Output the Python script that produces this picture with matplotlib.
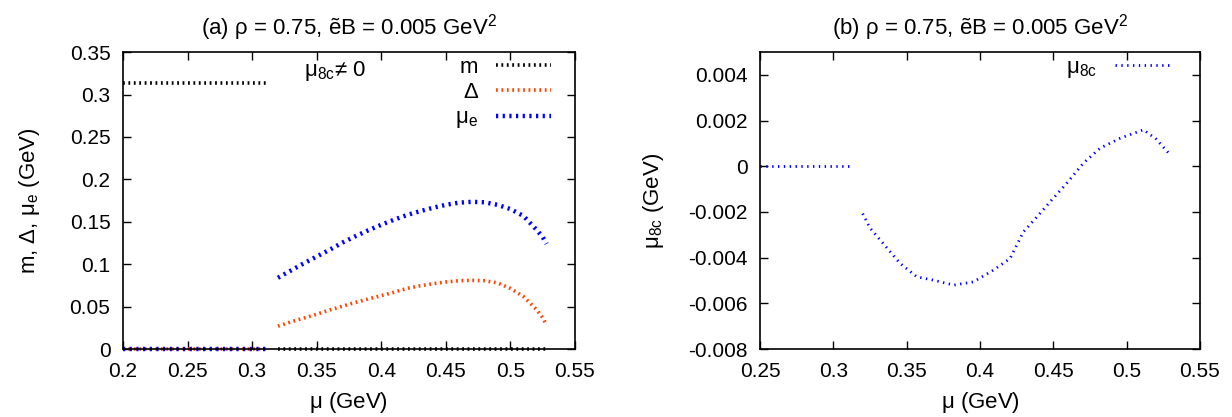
import numpy as np
import matplotlib
matplotlib.use('Agg')
import matplotlib.pyplot as plt

plt.rcParams['font.family'] = ['Liberation Sans', 'DejaVu Sans']
plt.rcParams['mathtext.fontset'] = 'custom'
plt.rcParams['mathtext.rm'] = 'Liberation Sans'
plt.rcParams['mathtext.it'] = 'Liberation Sans'
plt.rcParams['mathtext.bf'] = 'Liberation Sans:bold'

# ---------------- data ----------------
# panel (a): below the jump
mu_low = [0.2, 0.22, 0.24, 0.26, 0.28, 0.30, 0.313]
m_low = [0.314, 0.314, 0.314, 0.314, 0.314, 0.314, 0.314]
zero_low = [0.0, 0.0, 0.0, 0.0, 0.0, 0.0, 0.0]

# panel (a): above the jump
mu_high = [0.32, 0.33, 0.34, 0.35, 0.36, 0.37, 0.38, 0.39, 0.40, 0.41, 0.42,
           0.43, 0.44, 0.45, 0.46, 0.47, 0.48, 0.49, 0.50, 0.51, 0.52, 0.525, 0.528]
m_high = [0.0] * len(mu_high)
delta_high = [0.027, 0.032, 0.0365, 0.041, 0.046, 0.0505, 0.055, 0.059, 0.063, 0.067, 0.0715,
              0.0745, 0.077, 0.079, 0.0805, 0.081, 0.0805, 0.078, 0.0715, 0.062, 0.047, 0.037, 0.028]
mue_high = [0.084, 0.0925, 0.101, 0.109, 0.117, 0.1255, 0.133, 0.140, 0.1465, 0.1525, 0.158,
            0.1625, 0.1665, 0.170, 0.1725, 0.1735, 0.173, 0.170, 0.165, 0.157, 0.141, 0.132, 0.124]

# panel (b)
mu8_low_x = [0.25, 0.27, 0.29, 0.313]
mu8_low = [0.0, 0.0, 0.0, 0.0]
mu8_high_x = [0.320, 0.325, 0.332, 0.3455, 0.357, 0.368, 0.382, 0.3955, 0.409, 0.4205,
              0.4227, 0.4296, 0.439, 0.448, 0.4593, 0.4705, 0.482, 0.4956, 0.5115, 0.520, 0.5293]
mu8_high = [-0.00207, -0.0027, -0.00323, -0.00425, -0.00484, -0.00498, -0.0052, -0.00506,
            -0.00455, -0.00404, -0.00375, -0.00287, -0.0022, -0.00154, -0.00073, 0.00014,
            0.0008, 0.00123, 0.0016, 0.0012, 0.00053]

xticks_a = [0.2, 0.25, 0.3, 0.35, 0.4, 0.45, 0.5, 0.55]
xticklabels_a = ['0.2', '0.25', '0.3', '0.35', '0.4', '0.45', '0.5', '0.55']
yticks_a = [0, 0.05, 0.1, 0.15, 0.2, 0.25, 0.3, 0.35]
yticklabels_a = ['0', '0.05', '0.1', '0.15', '0.2', '0.25', '0.3', '0.35']
xticks_b = [0.25, 0.3, 0.35, 0.4, 0.45, 0.5, 0.55]
xticklabels_b = ['0.25', '0.3', '0.35', '0.4', '0.45', '0.5', '0.55']
yticks_b = [-0.008, -0.006, -0.004, -0.002, 0, 0.002, 0.004]
yticklabels_b = ['-0.008', '-0.006', '-0.004', '-0.002', '0', '0.002', '0.004']

BLACK = '#000000'
ORANGE = '#ff4500'
BLUE = '#0000ff'
FS = 15      # tick labels
FS_L = 16    # titles, axis labels, legend

fig = plt.figure(figsize=(12.32, 4.17), dpi=100)
ax1 = fig.add_axes([0.0998, 0.163, 0.3669, 0.712])
ax2 = fig.add_axes([0.6169, 0.163, 0.3571, 0.712])

dots_a = (0, (0.5, 1.0))

# ---- panel (a)
ax1.plot(mu_low, m_low, color=BLACK, lw=2.6, ls=dots_a, label='m')
ax1.plot(mu_high, m_high, color=BLACK, lw=2.6, ls=dots_a, clip_on=False)
ax1.plot(mu_low, zero_low, color=ORANGE, lw=2.6, ls=dots_a, label='Δ', clip_on=False)
ax1.plot(mu_high, delta_high, color=ORANGE, lw=2.6, ls=dots_a)
ax1.plot(mu_low, zero_low, color=BLUE, lw=3.2, ls=dots_a, label=r'$\mathrm{\mu_e}$', clip_on=False)
ax1.plot(mu_high, mue_high, color=BLUE, lw=3.2, ls=dots_a)

ax1.set_xlim(0.2, 0.55)
ax1.set_ylim(0, 0.35)
ax1.set_xticks(xticks_a, xticklabels_a)
ax1.set_yticks(yticks_a, yticklabels_a)
ax1.set_xlabel(r'$\mathrm{\mu}$ (GeV)', fontsize=FS_L, labelpad=7)
ax1.set_ylabel(r'm, Δ, $\mathrm{\mu_e}$ (GeV)', fontsize=FS_L, labelpad=20)
ax1.set_title(r'(a) ρ = 0.75, ẽB = 0.005 GeV$^2$', fontsize=FS_L, pad=13)
ax1.text(0.40, 0.935, r'$\mathrm{\mu_{8c}}$≠ 0', transform=ax1.transAxes,
         fontsize=FS_L, va='center', ha='left')
ax1.legend(loc='upper right', bbox_to_anchor=(0.967, 1.015), markerfirst=False,
           frameon=False, fontsize=FS_L, handlelength=2.5, handletextpad=0.8,
           labelspacing=0.2, borderaxespad=0.0, alignment='right')

# ---- panel (b)
dots_b = (0, (0.5, 1.6))
ax2.plot(mu8_low_x, mu8_low, color=BLUE, lw=2.0, ls=dots_b, label=r'$\mathrm{\mu_{8c}}$')
ax2.plot(mu8_high_x, mu8_high, color=BLUE, lw=2.0, ls=dots_b)
ax2.set_xlim(0.25, 0.55)
ax2.set_ylim(-0.008, 0.005)
ax2.set_xticks(xticks_b, xticklabels_b)
ax2.set_yticks(yticks_b, yticklabels_b)
ax2.set_xlabel(r'$\mathrm{\mu}$ (GeV)', fontsize=FS_L, labelpad=7)
ax2.set_ylabel(r'$\mathrm{\mu_{8c}}$ (GeV)', fontsize=FS_L, labelpad=16)
ax2.set_title(r'(b) ρ = 0.75, ẽB = 0.005 GeV$^2$', fontsize=FS_L, pad=13)
ax2.legend(loc='upper right', bbox_to_anchor=(0.959, 1.015), markerfirst=False,
           frameon=False, fontsize=FS_L, handlelength=2.6, handletextpad=0.8,
           borderaxespad=0.0)

for ax in (ax1, ax2):
    ax.tick_params(direction='in', top=True, right=True, length=6, width=1,
                   labelsize=FS)
    ax.tick_params(axis='x', pad=9)
    ax.tick_params(axis='y', pad=9)
    for s in ax.spines.values():
        s.set_linewidth(1.2)

fig.savefig('out.png', dpi=100)
